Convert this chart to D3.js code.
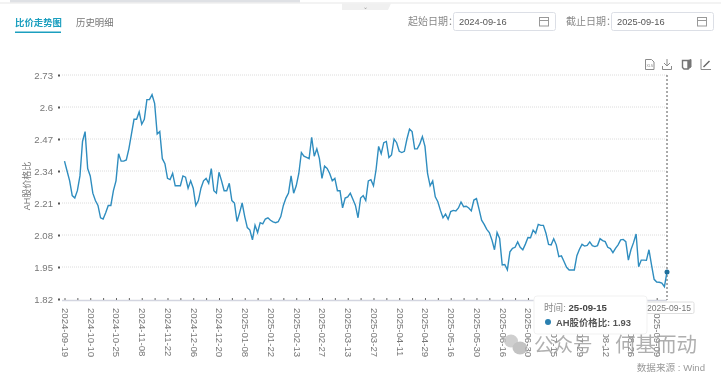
<!DOCTYPE html>
<html>
<head>
<meta charset="utf-8">
<script src="https://cdnjs.cloudflare.com/ajax/libs/d3/7.8.5/d3.min.js"></script>
<style>
  html, body { margin: 0; padding: 0; background: #fff; overflow: hidden; }
  svg { display: block; filter: blur(0.35px); font-family: "Liberation Sans", "Noto Sans CJK SC", sans-serif; }
</style>
</head>
<body>
<div id="chart"></div>
<script>
// Getting the data (one value per trading day)
var ratio = [
  2.38, 2.34, 2.30, 2.24, 2.23, 2.26, 2.32, 2.46, 2.50, 2.35,
  2.32, 2.25, 2.22, 2.20, 2.15, 2.145, 2.17, 2.20, 2.20, 2.26,
  2.30, 2.41, 2.38, 2.38, 2.385, 2.43, 2.49, 2.55, 2.55, 2.58,
  2.53, 2.55, 2.63, 2.63, 2.65, 2.615, 2.49, 2.50, 2.39, 2.37,
  2.31, 2.305, 2.33, 2.28, 2.28, 2.28, 2.32, 2.315, 2.27, 2.30,
  2.27, 2.20, 2.22, 2.27, 2.30, 2.31, 2.29, 2.35, 2.26, 2.25,
  2.335, 2.30, 2.26, 2.26, 2.29, 2.22, 2.21, 2.135, 2.17, 2.21,
  2.155, 2.11, 2.10, 2.06, 2.12, 2.09, 2.13, 2.125, 2.145, 2.15,
  2.14, 2.133, 2.13, 2.134, 2.155, 2.20, 2.23, 2.25, 2.32, 2.25,
  2.28, 2.33, 2.415, 2.40, 2.395, 2.39, 2.477, 2.40, 2.43, 2.39,
  2.31, 2.36, 2.35, 2.33, 2.30, 2.31, 2.26, 2.26, 2.19, 2.23,
  2.235, 2.25, 2.225, 2.20, 2.15, 2.23, 2.24, 2.22, 2.30, 2.305,
  2.28, 2.345, 2.44, 2.41, 2.455, 2.46, 2.395, 2.405, 2.47, 2.455,
  2.42, 2.415, 2.42, 2.47, 2.51, 2.50, 2.43, 2.43, 2.45, 2.48,
  2.44, 2.33, 2.28, 2.30, 2.235, 2.215, 2.18, 2.15, 2.165, 2.144,
  2.175, 2.18, 2.178, 2.19, 2.214, 2.195, 2.197, 2.19, 2.178, 2.222,
  2.228, 2.185, 2.14, 2.123, 2.103, 2.09, 2.06, 2.02, 2.09, 2.066,
  1.958, 1.96, 1.938, 2.012, 2.026, 2.03, 2.052, 2.03, 2.02, 2.043,
  2.07, 2.069, 2.10, 2.087, 2.123, 2.119, 2.119, 2.087, 2.042, 2.04,
  2.065, 2.04, 1.992, 1.995, 1.972, 1.949, 1.938, 1.938, 1.938, 1.996,
  2.022, 2.042, 2.035, 2.038, 2.052, 2.037, 2.033, 2.037, 2.065, 2.057,
  2.053, 2.03, 2.025, 2.008, 2.026, 2.04, 2.06, 2.062, 2.053, 1.978,
  2.02, 2.049, 2.084, 1.951, 1.978, 1.978, 1.977, 2.02, 1.958, 1.90,
  1.889, 1.888, 1.885, 1.87, 1.93
];

// one label for every 10th trading day
var dateLabels = [
  '2024-09-19', '2024-10-10', '2024-10-25', '2024-11-08', '2024-11-22', '2024-12-06',
  '2024-12-20', '2025-01-08', '2025-01-22', '2025-02-13', '2025-02-27', '2025-03-13',
  '2025-03-27', '2025-04-11', '2025-04-29', '2025-05-16', '2025-05-30', '2025-06-16',
  '2025-06-30', '2025-07-15', '2025-07-29', '2025-08-12', '2025-08-26', '2025-09-09'
];
var yTicks = [1.82, 1.95, 2.08, 2.21, 2.34, 2.47, 2.6, 2.73];

var lastDate = '2025-09-15';
var grey = '#777';
var lineColor = '#2f8dbf';

var width = 721, height = 375;

var svg = d3.select('#chart').append('svg')
    .attr('width', width)
    .attr('height', height);

// Set the ranges
var x = d3.scaleLinear().domain([0, ratio.length - 1]).range([64.5, 667]);
var y = d3.scaleLinear().domain([1.82, 2.73]).range([299, 75]);

// Page furniture at the top
svg.append('rect').attr('x', 10).attr('y', 0).attr('width', 290).attr('height', 2.5).attr('fill', '#dfe1e5');
svg.append('rect').attr('x', 0).attr('y', 2.5).attr('width', width).attr('height', 1).attr('fill', '#e8e8e8');
svg.append('path').attr('d', 'M342,3.5H391L388,10H342Z').attr('fill', '#f0f0f0');
svg.append('text').attr('x', 365).attr('y', 9).attr('font-size', 6).attr('text-anchor', 'middle').attr('fill', '#999').text('⌄');

// Tabs
svg.append('text').attr('x', 15).attr('y', 26).attr('font-size', 9.4).attr('font-weight', 'bold')
    .attr('fill', '#1c9fbf').text('比价走势图');
svg.append('rect').attr('x', 15).attr('y', 31.5).attr('width', 46).attr('height', 1.5).attr('fill', '#1c9fbf');
svg.append('text').attr('x', 76).attr('y', 26).attr('font-size', 9.4).attr('fill', '#777').text('历史明细');

// Date inputs
function dateBox(labelText, labelX, boxX, value) {
  svg.append('text').attr('x', labelX).attr('y', 25).attr('font-size', 10).attr('fill', '#888').text(labelText);
  svg.append('rect').attr('x', boxX + 0.5).attr('y', 12.5).attr('width', 102).attr('height', 18).attr('rx', 2)
      .attr('fill', '#fff').attr('stroke', '#dcdfe6');
  svg.append('text').attr('x', boxX + 6).attr('y', 25).attr('font-size', 9.3).attr('fill', '#555').text(value);
  // calendar icon
  svg.append('rect').attr('x', boxX + 86.5).attr('y', 17.5).attr('width', 9).attr('height', 8.5)
      .attr('fill', 'none').attr('stroke', '#999');
  svg.append('path').attr('d', 'M' + (boxX + 86.5) + ',20.5h9').attr('stroke', '#999');
}
dateBox('起始日期：', 408, 453, '2024-09-16');
dateBox('截止日期：', 566, 611, '2025-09-16');

// Toolbar icons
var iconStroke = '#8a8a8a';
svg.append('path').attr('d', 'M645.5,59.5h6l2.5,2.5v7.5h-8.5Z').attr('fill', 'none').attr('stroke', iconStroke);
svg.append('text').attr('x', 649.7).attr('y', 67).attr('font-size', 3.5).attr('text-anchor', 'middle').attr('fill', iconStroke).text('XLS');
svg.append('path').attr('d', 'M667,59v6.5M664,63l3,3l3,-3M662.5,66v3.5h9V66').attr('fill', 'none').attr('stroke', iconStroke);
svg.append('path').attr('d', 'M682.5,60.5h5.5v8.5h-4l-1.5,-1.5Z').attr('fill', 'none').attr('stroke', '#777').attr('stroke-width', 1.4);
svg.append('path').attr('d', 'M688,60.5l3,-1v7.5l-3,2').attr('fill', '#777').attr('stroke', '#777');
svg.append('path').attr('d', 'M701,59v10.5h10').attr('fill', 'none').attr('stroke', iconStroke);
svg.append('path').attr('d', 'M703.5,67l6,-6').attr('fill', 'none').attr('stroke', '#666').attr('stroke-width', 1.5);

// Grid lines
svg.selectAll('.grid')
    .data(yTicks.slice(1))
  .enter().append('line')
    .attr('class', 'grid')
    .attr('x1', 62).attr('x2', 667)
    .attr('y1', function (d) { return y(d); })
    .attr('y2', function (d) { return y(d); })
    .attr('stroke', '#dcdcdc')
    .attr('stroke-dasharray', '1,1');

// Y axis
var yAxis = svg.append('g')
    .attr('transform', 'translate(59,0)')
    .call(d3.axisLeft(y).tickValues(yTicks).tickSize(0).tickPadding(6).tickFormat(function (d) { return String(d); }));
yAxis.select('.domain').remove();
yAxis.selectAll('text').attr('fill', grey).style('font-size', '9.6px');
yAxis.selectAll('.tick').append('rect')
    .attr('x', -1).attr('y', -1).attr('width', 2).attr('height', 2).attr('fill', '#555');

// Y axis label
svg.append('text')
    .attr('transform', 'translate(30,186) rotate(-90)')
    .attr('text-anchor', 'middle')
    .attr('font-size', 9)
    .attr('fill', grey)
    .text('AH股价格比');

// X axis
var xAxis = svg.append('g')
    .attr('transform', 'translate(0,300)')
    .call(d3.axisBottom(x)
      .tickValues(d3.range(0, ratio.length, 5))
      .tickSize(-2)
      .tickFormat(function (d) { return d % 10 === 0 ? dateLabels[d / 10] : ''; }));
xAxis.select('.domain').attr('d', 'M62,0.5H667').attr('stroke', '#d3d5e0').attr('stroke-width', 1.4);
xAxis.selectAll('line').attr('stroke', '#666');
xAxis.selectAll('text')
    .attr('transform', 'translate(0,8) rotate(90)')
    .attr('text-anchor', 'start')
    .attr('x', 0).attr('y', 0).attr('dy', '0.32em')
    .attr('fill', grey)
    .style('font-size', '9.6px');

// Crosshair
svg.append('line')
    .attr('x1', x(ratio.length - 1)).attr('x2', x(ratio.length - 1))
    .attr('y1', y(2.73)).attr('y2', 300)
    .attr('stroke', '#555')
    .attr('stroke-dasharray', '2,2');

// Draw the line
var valueline = d3.line()
    .x(function (d, i) { return x(i); })
    .y(function (d) { return y(d); });

svg.append('path')
    .datum(ratio)
    .attr('d', valueline)
    .attr('fill', 'none')
    .attr('stroke', lineColor)
    .attr('stroke-width', 1.4);

// Last point
svg.append('circle')
    .attr('cx', x(ratio.length - 1))
    .attr('cy', y(ratio[ratio.length - 1]))
    .attr('r', 2.5)
    .attr('fill', '#1f6f9c');

// Pointer label
svg.append('rect').attr('x', 640).attr('y', 302).attr('width', 54).attr('height', 11.5).attr('rx', 1.5)
    .attr('fill', '#fff').attr('stroke', '#dedede');
svg.append('text').attr('x', 647).attr('y', 311).attr('font-size', 8.6).attr('fill', '#777').text(lastDate);

// Tooltip
svg.append('rect').attr('x', 534).attr('y', 296).attr('width', 113).attr('height', 38).attr('rx', 3)
    .attr('fill', '#fff').attr('stroke', '#f1f1f1');
var tipTime = svg.append('text').attr('x', 544).attr('y', 311).attr('font-size', 9.6).attr('fill', '#888');
tipTime.append('tspan').text('时间: ');
tipTime.append('tspan').attr('font-weight', 'bold').attr('fill', '#444').text('25-09-15');
svg.append('circle').attr('cx', 548).attr('cy', 322).attr('r', 3).attr('fill', '#2a80b0');
svg.append('text').attr('x', 556).attr('y', 326).attr('font-size', 9.4).attr('font-weight', 'bold')
    .attr('fill', '#555').text('AH股价格比: ' + d3.format('.2f')(ratio[ratio.length - 1]));

// Watermark
var mark = svg.append('g').attr('opacity', 0.8);
mark.append('ellipse').attr('cx', 511).attr('cy', 341).attr('rx', 7).attr('ry', 6.5).attr('fill', '#c4c4c4');
mark.append('ellipse').attr('cx', 520).attr('cy', 348).attr('rx', 7.5).attr('ry', 6.5).attr('fill', '#b4b4b4');
mark.append('text').attr('x', 534).attr('y', 352).attr('font-size', 19.5).attr('fill', '#9c9c9c').text('公众号');
mark.append('text').attr('x', 600).attr('y', 352).attr('font-size', 19.5).attr('fill', '#9c9c9c').text('·');
mark.append('text').attr('x', 615).attr('y', 352).attr('font-size', 20.5).attr('fill', '#9c9c9c').text('何基而动');

svg.append('text').attr('x', 705).attr('y', 371).attr('text-anchor', 'end').attr('font-size', 9.6)
    .attr('fill', '#999').text('数据来源 : Wind');
</script>
</body>
</html>
